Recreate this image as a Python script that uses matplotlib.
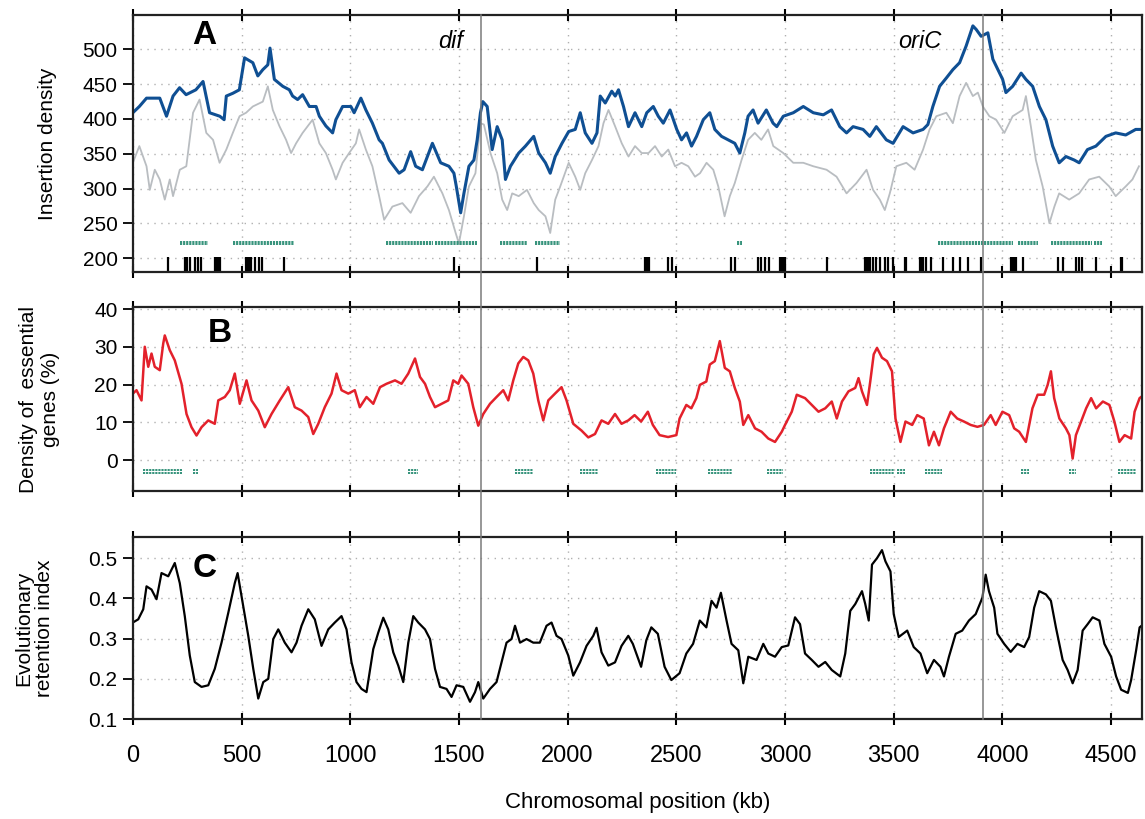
import matplotlib
matplotlib.use("Agg")
import matplotlib.pyplot as plt
from matplotlib.lines import Line2D
from matplotlib.transforms import blended_transform_factory

plt.rcParams['font.family'] = ['Liberation Sans', 'DejaVu Sans']

# ---- data (kb positions and values) ----
blue_kb = [0, 30, 63, 124, 155, 185, 215, 245, 290, 323, 353, 400, 420, 430, 460, 490, 514, 552, 575, 598,
           621, 631, 651, 690, 720, 735, 758, 781, 812, 843, 858, 888, 919, 934, 965, 1003, 1018, 1049, 1072,
           1102, 1133, 1148, 1179, 1225, 1248, 1278, 1301, 1332, 1378, 1416, 1454, 1477, 1488, 1508, 1523,
           1546, 1569, 1584, 1599, 1610, 1630, 1653, 1676, 1699, 1714, 1737, 1775, 1806, 1844, 1867, 1898,
           1920, 1943, 1974, 2005, 2035, 2058, 2081, 2112, 2135, 2150, 2173, 2203, 2219, 2234, 2257, 2280,
           2310, 2341, 2364, 2394, 2417, 2440, 2471, 2502, 2524, 2547, 2570, 2593, 2624, 2654, 2677, 2708,
           2739, 2769, 2792, 2815, 2830, 2853, 2876, 2914, 2945, 2962, 2992, 3038, 3084, 3130, 3176, 3214,
           3252, 3283, 3313, 3359, 3390, 3420, 3466, 3497, 3543, 3589, 3635, 3657, 3680, 3711, 3742, 3772,
           3803, 3833, 3864, 3879, 3902, 3933, 3956, 3979, 4001, 4016, 4047, 4086, 4108, 4139, 4170, 4200,
           4231, 4261, 4292, 4330, 4353, 4391, 4430, 4476, 4521, 4567, 4613, 4640]
blue_val = [409, 418, 430, 430, 404, 433, 445, 435, 442, 454, 409, 404, 399, 433, 437, 442, 488, 481, 462, 471,
            478, 502, 457, 447, 442, 433, 428, 435, 418, 418, 404, 390, 380, 399, 418, 418, 409, 430, 413,
            394, 370, 365, 341, 322, 327, 353, 332, 327, 365, 337, 332, 322, 303, 265, 293,
            332, 341, 370, 409, 425, 418, 356, 389, 370, 313, 332, 351, 361, 375, 351, 337,
            322, 346, 365, 382, 385, 409, 380, 365, 380, 433, 423, 440, 433, 442, 418, 389,
            409, 389, 409, 418, 404, 394, 413, 385, 370, 380, 361, 375, 399, 409, 385, 375,
            370, 365, 351, 380, 404, 413, 394, 413, 394, 389, 404, 409, 418, 409, 406, 413,
            389, 380, 389, 385, 375, 389, 370, 365, 389, 380, 385, 392, 418, 447, 459, 471,
            481, 505, 534, 529, 519, 524, 486, 471, 457, 438, 447, 466, 457, 447, 418, 399,
            361, 337, 346, 341, 337, 356, 361, 375, 380, 377, 385, 385]

gray_kb = [0, 30, 63, 78, 101, 124, 147, 170, 185, 216, 246, 277, 307, 338, 369, 399, 430, 460, 491, 521,
           552, 598, 621, 644, 674, 705, 728, 751, 781, 827, 858, 888, 919, 934, 965, 995, 1026, 1041, 1072,
           1102, 1133, 1156, 1194, 1240, 1278, 1316, 1355, 1385, 1424, 1454, 1485, 1500, 1523, 1546, 1576,
           1599, 1615, 1645, 1676, 1699, 1722, 1745, 1775, 1813, 1844, 1867, 1898, 1920, 1943, 1966, 2005,
           2035, 2058, 2081, 2112, 2142, 2165, 2188, 2219, 2249, 2280, 2310, 2341, 2372, 2402, 2433, 2463,
           2494, 2524, 2555, 2586, 2609, 2639, 2670, 2693, 2722, 2746, 2769, 2800, 2830, 2861, 2891, 2922,
           2946, 2992, 3038, 3084, 3130, 3191, 3237, 3283, 3329, 3375, 3405, 3436, 3459, 3482, 3512, 3558,
           3596, 3635, 3665, 3696, 3742, 3772, 3803, 3833, 3864, 3887, 3910, 3940, 3971, 4009, 4047, 4093,
           4108, 4131, 4154, 4185, 4216, 4239, 4261, 4307, 4353, 4399, 4445, 4491, 4521, 4567, 4598, 4628]
gray_val = [337, 361, 332, 298, 327, 313, 284, 313, 289, 327, 332, 409, 428, 380, 370, 337, 356, 380, 404, 409,
            418, 425, 447, 413, 390, 370, 351, 365, 380, 399, 365, 351, 327, 313, 337, 351, 365, 385, 356,
            332, 289, 255, 274, 279, 265, 289, 303, 317, 293, 269, 236, 221, 260, 303, 322,
            394, 392, 351, 322, 284, 269, 293, 289, 298, 279, 269, 260, 236, 284, 303, 337,
            317, 298, 322, 341, 361, 394, 413, 389, 365, 346, 361, 351, 351, 361, 346, 356,
            332, 337, 332, 317, 322, 337, 327, 303, 260, 289, 308, 341, 370, 380, 370, 385,
            361, 351, 337, 337, 332, 327, 317, 293, 308, 327, 298, 284, 269, 293, 332, 337,
            327, 356, 385, 404, 409, 394, 433, 452, 433, 438, 418, 404, 399, 380, 404, 413,
            433, 389, 341, 303, 250, 274, 293, 284, 293, 313, 317, 303, 289, 303, 313, 332]

# black tick marks under panel A (kb)
marks_a = [162, 238, 244, 251, 265, 284, 300, 315, 376, 384, 392, 399, 521, 529, 537, 544, 564, 580, 592, 697,
           1477, 1859, 2356, 2362, 2368, 2374, 2463, 2479, 2751, 2772, 2876, 2891, 2907, 2924,
           2977, 2985, 2993, 3000, 3191, 3367, 3375, 3382, 3390, 3405, 3420, 3436, 3459, 3474, 3497,
           3550, 3558, 3619, 3627, 3635, 3650, 3673, 3726, 3772, 3803, 3841, 3902,
           4040, 4048, 4056, 4063, 4093, 4254, 4277, 4338, 4353, 4365, 4430, 4544, 4552]
# green dashed segments (start kb, end kb)
green_a = [(216, 346), (460, 743), (1164, 1380), (1392, 1584), (1691, 1813), (1852, 1966), (2780, 2800),
           (3703, 4047), (4070, 4162), (4223, 4414), (4422, 4460)]

red_kb = [0, 17, 40, 55, 71, 86, 101, 124, 140, 147, 170, 193, 224, 247, 270, 293, 316, 347, 377, 393,
          423, 446, 469, 492, 523, 546, 577, 607, 638, 676, 715, 745, 776, 807, 830, 853, 883, 914, 937,
          960, 991, 1021, 1044, 1075, 1106, 1137, 1167, 1206, 1236, 1267, 1298, 1321, 1344, 1367, 1390,
          1420, 1451, 1474, 1497, 1512, 1543, 1566, 1589, 1612, 1643, 1673, 1704, 1727, 1750, 1773, 1796,
          1819, 1842, 1865, 1888, 1911, 1942, 1972, 1995, 2026, 2064, 2095, 2126, 2156, 2187, 2218, 2248,
          2279, 2308, 2338, 2369, 2392, 2423, 2462, 2500, 2515, 2546, 2569, 2592, 2608, 2638, 2654, 2677,
          2700, 2723, 2746, 2769, 2792, 2808, 2831, 2862, 2892, 2923, 2954, 2985, 3000, 3031, 3054, 3092,
          3123, 3154, 3185, 3215, 3238, 3262, 3292, 3323, 3338, 3354, 3377, 3392, 3408, 3423, 3446, 3469,
          3492, 3508, 3531, 3554, 3585, 3608, 3638, 3662, 3685, 3708, 3731, 3762, 3792, 3823, 3854, 3885,
          3915, 3946, 3969, 4000, 4031, 4054, 4077, 4108, 4138, 4162, 4192, 4208, 4223, 4238, 4262, 4292,
          4308, 4323, 4338, 4362, 4385, 4408, 4431, 4462, 4492, 4515, 4538, 4562, 4592, 4608, 4631, 4640]
red_val = [17.6, 18.5, 15.8, 30, 24.7, 28.2, 24.7, 23.8, 30.9, 33, 29.1, 26.4, 20.2, 12.2, 8.7, 6.5, 8.7, 10.5, 9.6, 15.8,
           16.7, 18.5, 22.9, 14.9, 21.1, 15.8, 13.1, 8.7, 12.2, 15.8, 19.3, 14.0, 13.1, 11.4, 6.9, 9.6, 14.0, 17.6, 22.9,
           18.5, 17.6, 18.5, 14.0, 16.7, 14.9, 19.3, 20.2, 21.1, 20.2, 22.9, 26.9, 22.0, 20.2, 16.7, 14.0,
           14.9, 15.8, 21.1, 20.2, 22.4, 20.2, 14.0, 9.1, 12.2, 14.9, 16.7, 18.5, 15.8, 21.1, 25.6, 27.3,
           26.4, 22.9, 15.8, 10.5, 15.8, 17.6, 19.3, 15.8, 9.6, 7.8, 6.0, 6.9, 10.5, 9.6, 12.2, 9.6,
           10.5, 11.9, 10.2, 12.8, 9.3, 6.6, 6.1, 6.6, 11, 14.6, 13.7, 16.4, 19.9, 20.8, 25.3, 26.2,
           31.5, 24.4, 23.5, 19.1, 15.5, 9.3, 11.9, 8.4, 7.5, 5.7, 4.8, 7.5, 9.3, 12.8, 17.3, 16.4,
           14.6, 12.8, 13.7, 15.5, 11, 15.5, 18.2, 19.1, 21.7, 18.2, 14.6, 20.8, 28, 29.7, 27.1, 26.2,
           23.5, 11, 4.8, 10.2, 9.3, 11.9, 11, 3.9, 7.5, 3.9, 8.4, 12.8, 11, 10.2, 9.3, 8.8,
           9.3, 11.9, 9.3, 12.8, 11.9, 8.4, 7.5, 4.8, 13.7, 17.3, 17.3, 19.9, 23.5, 16.4, 11, 8.4,
           6.6, 0.4, 6.6, 10.2, 13.7, 16.4, 13.7, 15.5, 14.6, 10.2, 4.8, 6.6, 5.7, 12.8, 16.4, 16.8]
green_b = [(48, 224), (278, 300), (1267, 1313), (1758, 1842), (2057, 2141), (2408, 2500), (2646, 2754),
           (2915, 2992), (3392, 3500), (3515, 3554), (3646, 3723), (4085, 4123), (4308, 4338), (4531, 4615)]

black_kb = [0, 25, 48, 63, 86, 109, 132, 163, 193, 216, 239, 262, 285, 316, 347, 377, 408, 439, 469, 482,
            508, 531, 554, 577, 600, 623, 646, 669, 699, 730, 753, 776, 807, 837, 868, 899, 929, 960, 983,
            1006, 1029, 1052, 1075, 1106, 1129, 1152, 1175, 1198, 1221, 1244, 1267, 1290, 1313, 1344, 1367,
            1390, 1413, 1443, 1466, 1489, 1520, 1551, 1574, 1589, 1612, 1643, 1673, 1696, 1719, 1742, 1758,
            1781, 1811, 1842, 1872, 1903, 1926, 1949, 1972, 2003, 2026, 2057, 2087, 2118, 2133, 2156, 2187,
            2218, 2248, 2279, 2300, 2338, 2362, 2385, 2415, 2446, 2477, 2515, 2546, 2577, 2608, 2638, 2662,
            2685, 2705, 2731, 2754, 2785, 2808, 2831, 2869, 2900, 2923, 2954, 2985, 3015, 3046, 3069, 3092,
            3123, 3154, 3185, 3215, 3254, 3277, 3300, 3323, 3354, 3369, 3385, 3400, 3423, 3446, 3462, 3485,
            3500, 3523, 3562, 3592, 3623, 3654, 3685, 3715, 3731, 3754, 3785, 3815, 3846, 3877, 3908, 3923,
            3938, 3962, 3977, 4008, 4038, 4069, 4100, 4123, 4146, 4169, 4200, 4223, 4246, 4277, 4300, 4323,
            4346, 4369, 4392, 4415, 4446, 4469, 4500, 4523, 4546, 4577, 4592, 4615, 4631, 4640]
black_val = [0.340, 0.348, 0.373, 0.430, 0.422, 0.398, 0.463, 0.455, 0.488, 0.438, 0.356, 0.258, 0.192, 0.180, 0.184, 0.225, 0.290, 0.364, 0.438, 0.463,
             0.381, 0.307, 0.225, 0.151, 0.192, 0.200, 0.299, 0.323, 0.290, 0.266, 0.290, 0.332, 0.373, 0.348, 0.282, 0.323, 0.340, 0.356, 0.323,
             0.241, 0.192, 0.175, 0.167, 0.274, 0.315, 0.352, 0.323, 0.266, 0.233, 0.192, 0.290, 0.356, 0.340, 0.323, 0.299,
             0.225, 0.180, 0.175, 0.155, 0.184, 0.180, 0.143, 0.167, 0.192, 0.151, 0.175, 0.192, 0.241, 0.290, 0.299, 0.332,
             0.290, 0.299, 0.290, 0.290, 0.332, 0.340, 0.307, 0.299, 0.258, 0.208, 0.241, 0.282, 0.307, 0.327, 0.266, 0.233,
             0.241, 0.282, 0.307, 0.287, 0.230, 0.296, 0.328, 0.312, 0.230, 0.197, 0.214, 0.263, 0.287, 0.345, 0.328, 0.394,
             0.377, 0.414, 0.345, 0.287, 0.271, 0.189, 0.255, 0.247, 0.287, 0.263, 0.255, 0.279, 0.283, 0.353, 0.336, 0.263,
             0.247, 0.230, 0.242, 0.222, 0.206, 0.263, 0.369, 0.386, 0.418, 0.386, 0.345, 0.484, 0.500, 0.520, 0.492, 0.467,
             0.361, 0.304, 0.320, 0.279, 0.263, 0.214, 0.247, 0.230, 0.206, 0.255, 0.312, 0.320, 0.345, 0.361, 0.402, 0.459,
             0.418, 0.377, 0.312, 0.287, 0.267, 0.287, 0.279, 0.304, 0.377, 0.418, 0.410, 0.394, 0.328, 0.247, 0.222, 0.189,
             0.222, 0.320, 0.336, 0.353, 0.345, 0.287, 0.255, 0.206, 0.173, 0.165, 0.197, 0.271, 0.328, 0.332]

x_ticks = [0, 500, 1000, 1500, 2000, 2500, 3000, 3500, 4000, 4500]
dif_kb = 1600
oric_kb = 3910
genome_kb = 4640

green = '#23896f'
grid_style = dict(color='#b0b0b0', linestyle=(0, (1, 4)), linewidth=1.0)


def style_axes(ax, ylim, yticks, show_xlabels=False):
    ax.set_xlim(0, genome_kb)
    ax.set_ylim(*ylim)
    ax.set_xticks(x_ticks)
    ax.set_yticks(yticks)
    ax.grid(True, **grid_style)
    ax.tick_params(axis='x', which='both', top=True, bottom=True, direction='inout', length=9,
                   width=1.5, labelbottom=show_xlabels, labelsize=17, pad=14)
    ax.tick_params(axis='y', direction='out', length=7, width=1.3, labelsize=15, pad=4)
    for s in ax.spines.values():
        s.set_linewidth(1.6)
        s.set_color('#222222')


def green_bars(ax, segments, y, gap):
    for a, b in segments:
        ax.hlines([y + gap, y - gap], a, b, colors=green, linewidth=1.3, linestyles=(0, (1.2, 0.5)))


fig = plt.figure(figsize=(11.45, 8.19), dpi=100)
axA = fig.add_axes([0.116, 0.668, 0.881, 0.314])
axB = fig.add_axes([0.116, 0.400, 0.881, 0.225])
axC = fig.add_axes([0.116, 0.122, 0.881, 0.222])

# Panel A
axA.plot(gray_kb, gray_val, color='#b9bdc1', linewidth=1.3)
axA.plot(blue_kb, blue_val, color='#0f4f93', linewidth=2.2)
axA.vlines(marks_a, 180, 201, colors='black', linewidth=1.6)
green_bars(axA, green_a, 221, 1.5)
style_axes(axA, (180, 550), [200, 250, 300, 350, 400, 450, 500])
axA.set_ylabel('Insertion density', fontsize=15)
axA.yaxis.set_label_coords(-0.075, 0.5)
axA.text(330, 520, 'A', fontsize=24, fontweight='bold', ha='center', va='center')
axA.text(1460, 512, 'dif', fontsize=17, style='italic', ha='center', va='center')
axA.text(3620, 512, 'oriC', fontsize=17, style='italic', ha='center', va='center')

# Panel B
axB.plot(red_kb, red_val, color='#e3212b', linewidth=1.8)
green_bars(axB, green_b, -3.0, 0.4)
style_axes(axB, (-8.3, 40.5), [0, 10, 20, 30, 40])
axB.set_ylabel('Density of  essential\ngenes (%)', fontsize=15, linespacing=1.2)
axB.yaxis.set_label_coords(-0.072, 0.5)
axB.text(400, 33.5, 'B', fontsize=24, fontweight='bold', ha='center', va='center')

# Panel C
axC.plot(black_kb, black_val, color='black', linewidth=1.6)
style_axes(axC, (0.1, 0.552), [0.1, 0.2, 0.3, 0.4, 0.5], show_xlabels=True)
axC.set_ylabel('Evolutionary\nretention index', fontsize=15, linespacing=1.15)
axC.yaxis.set_label_coords(-0.078, 0.5)
axC.text(330, 0.475, 'C', fontsize=24, fontweight='bold', ha='center', va='center')
axC.set_xlabel('Chromosomal position (kb)', fontsize=16, labelpad=18)

# dif and oriC lines across all panels
trans = blended_transform_factory(axC.transData, fig.transFigure)
for pos in (dif_kb, oric_kb):
    fig.add_artist(Line2D([pos, pos], [0.122, 0.982], transform=trans,
                          color='#7a7a7a', linewidth=1.1))

fig.savefig('out.png', dpi=100)
